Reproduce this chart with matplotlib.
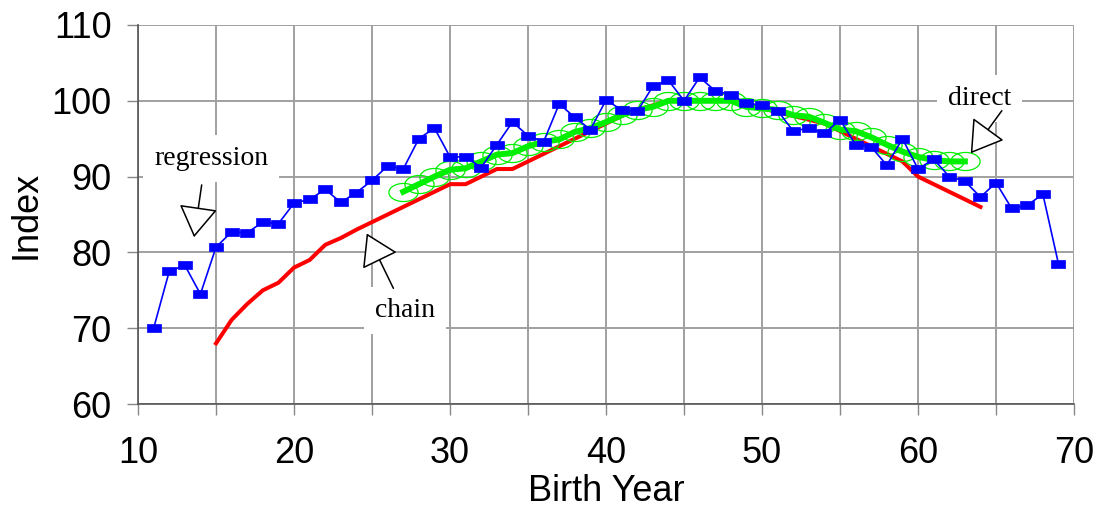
import numpy as np
import matplotlib
matplotlib.use("Agg")
import matplotlib.pyplot as plt
from matplotlib.path import Path
from matplotlib.ticker import MultipleLocator

# regression index, birth years 11..69
reg_years = list(range(11, 70))
reg_index = [70.0, 77.5, 78.3, 74.5, 80.7, 82.7, 82.6, 84.0, 83.8, 86.5,
             87.0, 88.3, 86.6, 87.9, 89.5, 91.4, 91.0, 95.0, 96.4, 92.6,
             92.6, 91.2, 94.2, 97.2, 95.4, 94.6, 99.6, 97.8, 96.2, 100.1,
             98.8, 98.6, 101.9, 102.7, 100.0, 103.1, 101.3, 100.8, 99.7, 99.4,
             98.7, 96.0, 96.4, 95.7, 97.5, 94.2, 93.9, 91.5, 95.0, 91.0,
             92.3, 90.0, 89.4, 87.3, 89.2, 85.8, 86.2, 87.7, 78.5]

# chain index, birth years 15..64
chain_years = list(range(15, 65))
chain_index = [68.0, 71.1, 73.2, 75.0, 76.0, 78.0, 79.0, 81.0, 81.9, 83.0,
               84.0, 85.0, 86.0, 87.0, 88.0, 89.0, 89.0, 90.0, 91.0, 91.0,
               92.0, 93.0, 94.0, 95.0, 96.0, 97.0, 98.0, 98.8, 99.4, 100.0,
               100.0, 100.0, 100.0, 100.0, 99.6, 99.0, 98.5, 98.0, 97.5, 97.0,
               96.0, 95.0, 94.0, 93.0, 92.0, 90.0, 89.0, 88.0, 87.0, 86.0]

# direct index, birth years 27..63
direct_years = list(range(27, 64))
direct_index = [88.0, 89.0, 90.0, 90.9, 91.1, 92.0, 92.9, 93.1, 94.0, 94.6,
                94.9, 95.9, 96.4, 97.2, 98.1, 98.8, 99.2, 100.0, 100.0, 100.0,
                100.0, 100.0, 99.2, 99.0, 98.8, 98.1, 97.9, 97.1, 96.2, 96.0,
                95.2, 94.2, 93.3, 92.6, 92.2, 92.0, 92.0]

fig = plt.figure(figsize=(10.99, 5.12), dpi=100)
ax = fig.add_axes([0.1256, 0.2109, 0.8517, 0.7403])

# wide rectangle marker and flat ellipse marker
rect = Path([(-1, -0.55), (1, -0.55), (1, 0.55), (-1, 0.55), (-1, -0.55)],
            [Path.MOVETO, Path.LINETO, Path.LINETO, Path.LINETO, Path.CLOSEPOLY])
t = np.linspace(0, 2 * np.pi, 60)
ell = Path(np.column_stack([np.cos(t), 0.62 * np.sin(t)]))

ax.plot(chain_years, chain_index, color="#ff0000", lw=2.9, zorder=2)
ax.plot(direct_years, direct_index, color="#00ee00", lw=4.3, zorder=3,
        marker=ell, markersize=21, mfc="none", mec="#00ee00", mew=0.9)
ax.plot(reg_years, reg_index, color="#0000ff", lw=1.2, zorder=4,
        marker=rect, markersize=9.5, mfc="#0000ff", mec="#0000ff", mew=0.5)

ax.set_xlim(10, 70)
ax.set_ylim(60, 110)
ax.xaxis.set_major_locator(MultipleLocator(10))
ax.xaxis.set_minor_locator(MultipleLocator(5))
ax.yaxis.set_major_locator(MultipleLocator(10))
ax.grid(True, which="both", axis="x", color="#a0a0a0", lw=1.4)
ax.grid(True, which="major", axis="y", color="#a0a0a0", lw=1.4)
ax.set_axisbelow(True)

for s in ["top", "right"]:
    ax.spines[s].set_visible(False)
for s in ["left", "bottom"]:
    ax.spines[s].set_color("#555555")
    ax.spines[s].set_linewidth(1.2)

ax.tick_params(axis="both", which="both", direction="out", length=8,
               width=1, color="#888888")
ax.tick_params(axis="x", which="major", pad=15, labelsize=26)
ax.tick_params(axis="y", which="major", pad=11, labelsize=26)
for lab in ax.get_xticklabels() + ax.get_yticklabels():
    lab.set_family("Liberation Sans")

ax.set_xlabel("Birth Year", fontsize=26, family="Liberation Sans", labelpad=2)
ax.set_ylabel("Index", fontsize=26, family="Liberation Sans", labelpad=6)

arrow = dict(arrowstyle="-|>,head_length=0.4,head_width=0.25",
             mutation_scale=50, fc="white", ec="black", lw=1.1,
             shrinkA=0, shrinkB=0)
box = dict(fc="white", ec="none", pad=8)

ax.text(11.03, 91.5, "regression", fontsize=20, family="Liberation Serif",
        ha="left", va="baseline", bbox=box, zorder=5)
ax.annotate("", xy=(13.59, 82.0), xytext=(14.08, 88.9), arrowprops=arrow, zorder=5)

ax.text(25.19, 71.5, "chain", fontsize=20, family="Liberation Serif",
        ha="left", va="baseline", bbox=box, zorder=5)
ax.annotate("", xy=(24.66, 82.5), xytext=(26.37, 75.26), arrowprops=arrow, zorder=5)

ax.text(61.9, 99.45, "direct", fontsize=20, family="Liberation Serif",
        ha="left", va="baseline", bbox=box, zorder=5)
ax.annotate("", xy=(63.38, 93.07), xytext=(65.37, 98.69), arrowprops=arrow, zorder=5)

fig.savefig("out.png", dpi=100)
